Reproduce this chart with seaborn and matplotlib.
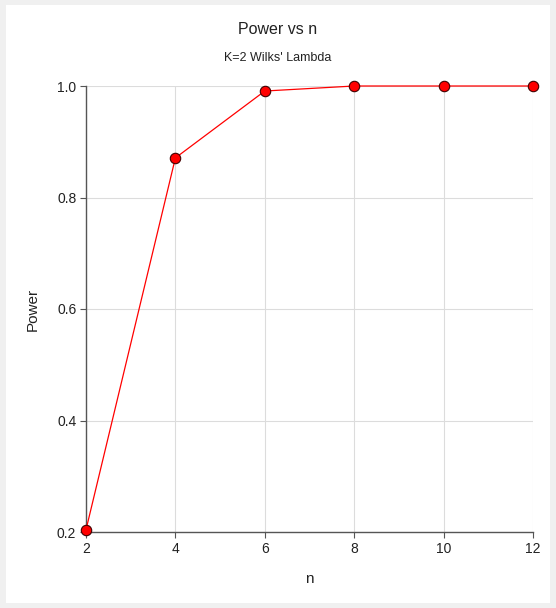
import numpy as np
import pandas as pd
import seaborn as sns
from matplotlib import pyplot as plt
from matplotlib.patches import Rectangle

n_values = [2, 4, 6, 8, 10, 12]
power = [0.204, 0.871, 0.991, 1.0, 1.0, 1.0]
x_ticks = [2, 4, 6, 8, 10, 12]
y_ticks = [0.2, 0.4, 0.6, 0.8, 1.0]

df = pd.DataFrame({'n': n_values, 'Power': power})

sns.set_style('white')
plt.rcParams['font.family'] = ['Liberation Sans', 'DejaVu Sans']

fig = plt.figure(figsize=(5.56, 6.08), dpi=100, facecolor='#f0f0f0')
fig.patches.append(Rectangle((6/556, 5/608), 544/556, 598/608, transform=fig.transFigure,
                             facecolor='white', edgecolor='none', zorder=-10))
ax = fig.add_axes([86/556, 76/608, 447/556, 446/608])
ax.set_facecolor('white')

sns.lineplot(data=df, x='n', y='Power', ax=ax, color='red', linewidth=0.9,
             marker='o', markersize=7.5, markerfacecolor='red',
             markeredgecolor='#400000', markeredgewidth=0.8, clip_on=False, zorder=5)

ax.set_xlim(2, 12)
ax.set_ylim(0.2, 1.0)
ax.set_xticks(x_ticks)
ax.set_yticks(y_ticks)
ax.set_yticklabels([f'{v:.1f}' for v in y_ticks])
ax.grid(True, color='#dcdcdc', linewidth=0.8)
ax.set_axisbelow(True)
for s in ['top', 'right']:
    ax.spines[s].set_visible(False)
for s in ['left', 'bottom']:
    ax.spines[s].set_color('#555555')
    ax.spines[s].set_linewidth(1.0)
ax.tick_params(axis='both', which='major', direction='out', length=4, width=0.8,
               color='#555555', labelsize=10, labelcolor='#222222', pad=3, left=True, bottom=True)

ax.set_xlabel('n', fontsize=11, color='#222222', labelpad=12)
ax.set_ylabel('Power', fontsize=11, color='#222222', labelpad=12)

fig.text(0.5, 1 - 30/608, 'Power vs n', ha='center', va='center', fontsize=11.5, color='#222222')
fig.text(0.5, 1 - 58/608, "K=2 Wilks' Lambda", ha='center', va='center', fontsize=9, color='#222222')

fig.savefig('out.png', dpi=100, facecolor=fig.get_facecolor())
